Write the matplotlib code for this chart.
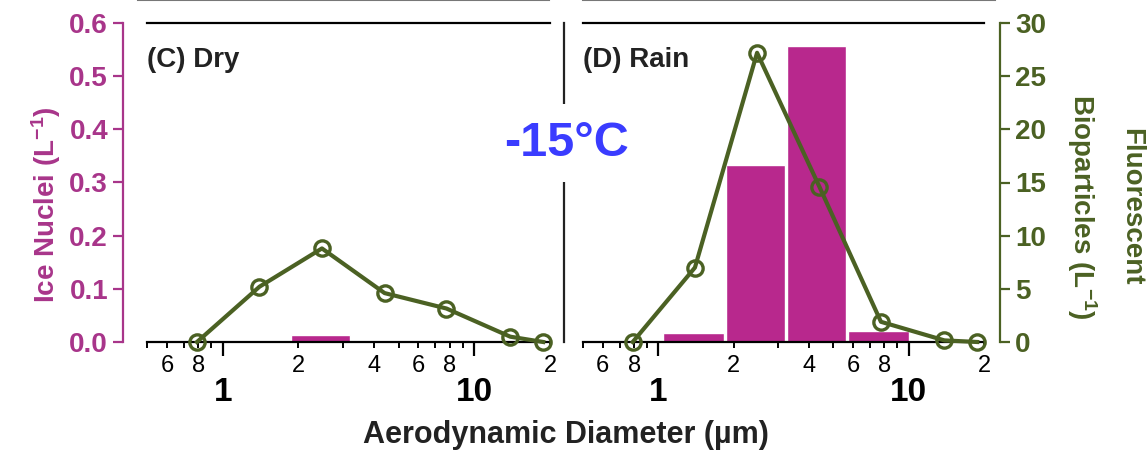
import numpy as np
import matplotlib
matplotlib.use("Agg")
import matplotlib.pyplot as plt
from matplotlib import font_manager
from matplotlib.ticker import FixedLocator, FixedFormatter
from matplotlib.lines import Line2D

# dados
bin_lo = [1.04, 1.87, 3.28, 5.70]
bin_hi = [1.83, 3.22, 5.60, 10.0]
ice_dry = [0.0, 0.013, 0.0, 0.0]
ice_rain = [0.016, 0.333, 0.556, 0.020]

fbap_x = [0.79, 1.40, 2.48, 4.40, 7.75, 13.9, 18.8]
fbap_dry = [0.0, 5.2, 8.8, 4.6, 3.15, 0.5, 0.0]
fbap_rain = [0.0, 7.0, 27.2, 14.6, 1.9, 0.15, 0.0]

minor_ticks = [0.5, 0.6, 0.7, 0.8, 0.9, 2, 3, 4, 5, 6, 7, 8, 9, 20]
minor_labels = ['', '6', '', '8', '', '2', '', '4', '', '6', '', '8', '', '2']
major_ticks = [1, 10]
major_labels = ['1', '10']

ice_ticks = [0.0, 0.1, 0.2, 0.3, 0.4, 0.5, 0.6]
fbap_ticks = [0, 5, 10, 15, 20, 25, 30]

MAG = '#b8288d'
MAG_AX = '#a8358a'
GRN = '#4b6123'
BLUE = '#3a3cff'

nomes = {f.name for f in font_manager.fontManager.ttflist}
narrow = 'Liberation Sans'
for nome in ['Liberation Sans Narrow', 'Arial Narrow']:
    if nome in nomes:
        narrow = nome
        break

plt.rcParams['font.family'] = ['Liberation Sans', 'DejaVu Sans']
plt.rcParams['mathtext.fontset'] = 'custom'
plt.rcParams['mathtext.rm'] = 'Liberation Sans:bold'
plt.rcParams['mathtext.bf'] = 'Liberation Sans:bold'
plt.rcParams['mathtext.default'] = 'bf'

W, H = 1148, 450
fig = plt.figure(figsize=(W / 100, H / 100), dpi=100)


def px(x0, x1, y0, y1):
    return [x0 / W, 1 - y1 / H, (x1 - x0) / W, (y1 - y0) / H]


def painel(rect, ice, fbap, titulo, eixo_esq, eixo_dir):
    ax = fig.add_axes(rect)
    ax.set_xscale('log')
    ax.set_xlim(0.5, 20)
    ax.set_ylim(0, 0.6)

    larg = [h - l for l, h in zip(bin_lo, bin_hi)]
    ax.bar(bin_lo, ice, width=larg, align='edge', color=MAG, edgecolor='white',
           linewidth=1.0, zorder=1)

    ax2 = ax.twinx()
    ax2.set_ylim(0, 30)
    ax2.plot(fbap_x, fbap, color=GRN, lw=3, marker='o', ms=11, mfc='none',
             mec=GRN, mew=2.4, clip_on=False, zorder=5)

    for a in (ax, ax2):
        for s in a.spines.values():
            s.set_visible(False)
    ax.spines['top'].set_visible(True)
    ax.spines['bottom'].set_visible(True)
    ax.spines['top'].set_linewidth(1.6)
    ax.spines['bottom'].set_linewidth(1.6)

    # eixo x
    ax.xaxis.set_major_locator(FixedLocator(major_ticks))
    ax.xaxis.set_major_formatter(FixedFormatter(major_labels))
    ax.xaxis.set_minor_locator(FixedLocator(minor_ticks))
    ax.xaxis.set_minor_formatter(FixedFormatter(minor_labels))
    ax.tick_params(axis='x', which='major', direction='out', length=10, width=1.6,
                   pad=15, labelsize=24)
    ax.tick_params(axis='x', which='minor', direction='out', length=4.5, width=1.4,
                   pad=5, labelsize=17)
    for t in ax.xaxis.get_majorticklabels():
        t.set_family(narrow)
        t.set_fontweight('bold')
    for t in ax.xaxis.get_minorticklabels():
        t.set_family(narrow)

    # eixo y esquerdo (Ice Nuclei)
    if eixo_esq:
        ax.spines['left'].set_visible(True)
        ax.spines['left'].set_position(('outward', 17))
        ax.spines['left'].set_color(MAG_AX)
        ax.spines['left'].set_linewidth(1.6)
        ax.set_yticks(ice_ticks)
        ax.set_yticklabels([f'{v:.1f}' for v in ice_ticks])
        ax.tick_params(axis='y', direction='out', length=7, width=1.6, color=MAG_AX,
                       labelcolor=MAG_AX, labelsize=20, pad=4)
        for t in ax.get_yticklabels():
            t.set_family(narrow)
            t.set_fontweight('bold')
    else:
        ax.tick_params(axis='y', left=False, labelleft=False)

    # eixo y direito (Fluorescent Bioparticles)
    if eixo_dir:
        ax2.spines['right'].set_visible(True)
        ax2.spines['right'].set_position(('outward', 11.5))
        ax2.spines['right'].set_color(GRN)
        ax2.spines['right'].set_linewidth(1.6)
        ax2.set_yticks(fbap_ticks)
        ax2.set_yticklabels([str(v) for v in fbap_ticks])
        ax2.tick_params(axis='y', direction='out', length=7, width=1.6, color=GRN,
                        labelcolor=GRN, labelsize=20, pad=4)
        for t in ax2.get_yticklabels():
            t.set_family(narrow)
            t.set_fontweight('bold')
    else:
        ax2.tick_params(axis='y', right=False, labelright=False)

    ax.text(0.0, 0.885, titulo, transform=ax.transAxes, fontsize=20,
            fontweight='bold', color='#222222', ha='left', va='center')
    return ax


painel(px(147, 550, 23, 342), ice_dry, fbap_dry, '(C) Dry', True, False)
painel(px(583, 984, 23, 342), ice_rain, fbap_rain, '(D) Rain', False, True)

# linha vertical de separação e restos dos painéis de cima
fig.add_artist(Line2D([564 / W, 564 / W], [1 - 23 / H, 1 - 342 / H], color='#222222', lw=1.6))
fig.add_artist(Line2D([138 / W, 549 / W], [0.999, 0.999], color='#777777', lw=1.5))
fig.add_artist(Line2D([583 / W, 995 / W], [0.999, 0.999], color='#777777', lw=1.5))

fig.text(566 / W, 1 - 143 / H, '-15°C', color=BLUE, fontsize=35, fontweight='bold',
         ha='center', va='center',
         bbox=dict(facecolor='white', edgecolor='none', pad=12))

fig.text(46 / W, 1 - 205 / H, 'Ice Nuclei (L$^{-1}$)', color=MAG_AX, fontsize=20,
         fontweight='bold', rotation=90, ha='center', va='center')
fig.text(566 / W, 1 - 435 / H, 'Aerodynamic Diameter (µm)', color='#222222', fontsize=22,
         fontweight='bold', ha='center', va='center')
fig.text(1082 / W, 1 - 207 / H, 'Bioparticles (L$^{-1}$)', color=GRN, fontsize=20,
         fontweight='bold', rotation=-90, ha='center', va='center')
fig.text(1131 / W, 1 - 207 / H, 'Fluorescent', color=GRN, fontsize=20,
         fontweight='bold', rotation=-90, ha='center', va='center')

fig.savefig('out.png', dpi=100)
